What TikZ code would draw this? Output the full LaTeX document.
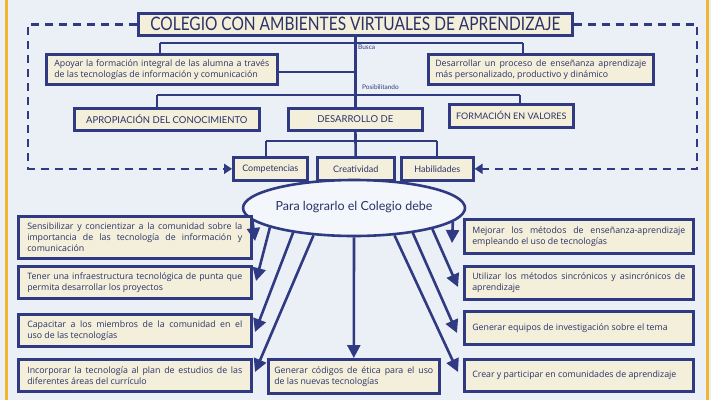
\documentclass[tikz,border=0pt]{standalone}
\usepackage{fontspec}
\usepackage{graphicx}
\setmainfont{Lato}
\newfontfamily\boxfont{Open Sans}
\usetikzlibrary{arrows.meta,shapes.geometric}
\definecolor{navy}{HTML}{2F3A82}
\definecolor{cream}{HTML}{F4EFDA}
\definecolor{bg}{HTML}{EBF0F6}
\definecolor{gold}{HTML}{F2B531}
\definecolor{ink}{HTML}{2A3268}
\newcommand{\jl}[2]{{\spaceskip=0pt\xspaceskip=0pt\makebox[#1][s]{#2}}}
\newcommand{\nl}[1]{\mbox{#1}}
\begin{document}
\begin{tikzpicture}[x=1pt,y=-1pt,
  box/.style={draw=navy, line width=2.6pt, fill=cream, text=ink, inner ysep=2pt},
  tbox/.style={box, anchor=north west, align=left, font=\boxfont\fontsize{8.8}{11}\selectfont,
    execute at begin node={\spaceskip=0pt\xspaceskip=0pt}},
  cbox/.style={box, anchor=north west, align=center, inner sep=0pt},
  conn/.style={draw=navy, line width=2.6pt},
  arr/.style={conn, -{Triangle[length=13pt,width=13pt]}},
  dashline/.style={draw=navy, line width=2.6pt, dash pattern=on 8pt off 6pt, -{Triangle[length=8pt,width=10pt]}},
  lbl/.style={font=\fontsize{6.5}{7}\selectfont, text=navy, anchor=west, inner sep=0pt}]
\useasboundingbox (0,0) rectangle (711,400);
\fill[bg] (0,0) rectangle (711,400);
\fill[gold] (5,0) rectangle (8,400);
\fill[gold] (706,0) rectangle (709,400);

% top level
\node[cbox, minimum width=434pt, minimum height=22pt] (title) at (137,12)
  {\resizebox{410pt}{13.5pt}{COLEGIO CON AMBIENTES VIRTUALES DE APRENDIZAJE}};
\node[tbox, text width=215pt, inner xsep=8pt, minimum height=30pt] (apoyar) at (45,53)
  {\jl{215pt}{Apoyar la formación integral de las alumna a través}\\\nl{de las tecnologías de información y comunicación}};
\node[tbox, text width=211pt, inner xsep=7pt, minimum height=30pt] (desarr) at (427,53)
  {\jl{211pt}{Desarrollar un proceso de enseñanza aprendizaje}\\\nl{más personalizado, productivo y dinámico}};

% second level
\node[cbox, minimum width=185pt, minimum height=22pt, font=\fontsize{9.5}{11}\selectfont] (aprop) at (73,107) {APROPIACIÓN DEL CONOCIMIENTO};
\node[cbox, minimum width=134pt, minimum height=22pt, font=\fontsize{9.5}{11}\selectfont] (desde) at (287,107) {DESARROLLO DE};
\node[cbox, minimum width=124pt, minimum height=23pt, font=\fontsize{9}{11}\selectfont] (forma) at (448,103) {FORMACIÓN EN VALORES};

% third level
\node[cbox, minimum width=74pt, minimum height=23pt, font=\fontsize{9}{10}\selectfont] (comp) at (232,156) {Competencias};
\node[cbox, minimum width=77pt, minimum height=23pt, font=\fontsize{9}{10}\selectfont] (crea) at (316,156) {Creatividad};
\node[cbox, minimum width=72pt, minimum height=23pt, font=\fontsize{9}{10}\selectfont] (habi) at (400,156) {Habilidades};

% ellipse
\node[ellipse, draw=navy, line width=2.6pt, fill=bg!60!white, minimum width=168pt, minimum height=56pt, inner sep=0pt,
  font=\fontsize{12.5}{14}\selectfont, text=ink] (ell) at (354,208) {\raisebox{5pt}{Para lograrlo el Colegio debe}};

% bottom boxes
\node[tbox, text width=215pt, inner xsep=9pt, minimum height=42pt] (L1) at (17,215)
  {\jl{215pt}{Sensibilizar y concientizar a la comunidad sobre la}\\\jl{215pt}{importancia de las tecnología de información y}\\\nl{comunicación}};
\node[tbox, text width=215pt, inner xsep=9pt, minimum height=32pt] (L2) at (17,265)
  {\jl{215pt}{Tener una infraestructura tecnológica de punta que}\\\nl{permita desarrollar los proyectos}};
\node[tbox, text width=215pt, inner xsep=9pt, minimum height=32pt] (L3) at (17,313)
  {\jl{215pt}{Capacitar a los miembros de la comunidad en el}\\\nl{uso de las tecnologías}};
\node[tbox, text width=215pt, inner xsep=9pt, minimum height=32pt] (L4) at (17,358)
  {\jl{215pt}{Incorporar la tecnología al plan de estudios de las}\\\nl{diferentes áreas del currículo}};
\node[tbox, text width=159pt, inner xsep=6pt, minimum height=34pt] (gen) at (267,358)
  {\jl{159pt}{Generar códigos de ética para el uso}\\\nl{de las nuevas tecnologías}};
\node[tbox, text width=213pt, inner xsep=8pt, minimum height=34pt] (R1) at (463,218)
  {\jl{213pt}{Mejorar los métodos de enseñanza-aprendizaje}\\\nl{empleando el uso de tecnologías}};
\node[tbox, text width=213pt, inner xsep=8pt, minimum height=33pt] (R2) at (463,265)
  {\jl{213pt}{Utilizar los métodos sincrónicos y asincrónicos de}\\\nl{aprendizaje}};
\node[tbox, text width=213pt, inner xsep=8pt, minimum height=33pt] (R3) at (463,310)
  {\nl{Generar equipos de investigación sobre el tema}};
\node[tbox, text width=213pt, inner xsep=8pt, minimum height=32pt] (R4) at (463,358)
  {\nl{Crear y participar en comunidades de aprendizaje}};

% connectors top
\coordinate (jb) at (354,43);
\coordinate (bL) at (160,43);
\coordinate (bR) at (523,43);
\draw[conn] (title) -- (desde);
\draw[conn] (bL) -- (bR);
\draw[conn] (bL) -- (bL |- apoyar.north);
\draw[conn] (bR) -- (bR |- desarr.north);
\coordinate (ae) at (276,72);
\draw[conn] (ae) -- (ae -| jb);
\node[lbl] (busca) at (358,47) {Busca};

\coordinate (pL) at (157,95);
\coordinate (pR) at (520,95);
\draw[conn] (pL) -- (pR);
\draw[conn] (pL) -- (pL |- aprop.north);
\draw[conn] (pR) -- (pR |- forma.north);
\node[lbl] (posib) at (362,87) {Posibilitando};

\coordinate (dL) at (266,141);
\coordinate (dR) at (437,141);
\draw[conn] (desde) -- (crea);
\draw[conn] (dL) -- (dR);
\draw[conn] (dL) -- (dL |- comp.north);
\draw[conn] (dR) -- (dR |- habi.north);

% dashed frame
\coordinate (fl) at (28,100);
\coordinate (fr) at (697,100);
\draw[dashline] (title.west) -| (fl) |- (comp.west);
\draw[dashline] (title.east) -| (fr) |- (habi.east);

% arrows from ellipse
\coordinate (t1) at (255,241);
\coordinate (t2) at (256,281);
\coordinate (t3) at (255,332);
\coordinate (t4) at (255,372);
\coordinate (s1) at (452,243);
\coordinate (s2) at (458,287);
\coordinate (s3) at (457,333);
\coordinate (s4) at (458,372);
\draw[arr] (ell.187) -- (t1);
\draw[arr] (ell.193) -- (t2);
\draw[arr] (ell.202) -- (t3);
\draw[arr] (ell.214) -- (t4);
\draw[arr] (ell.south) -- (gen.north);
\draw[arr] (ell.352) -- (s1);
\draw[arr] (ell.345) -- (s2);
\draw[arr] (ell.337) -- (s3);
\draw[arr] (ell.326) -- (s4);
\end{tikzpicture}
\end{document}
